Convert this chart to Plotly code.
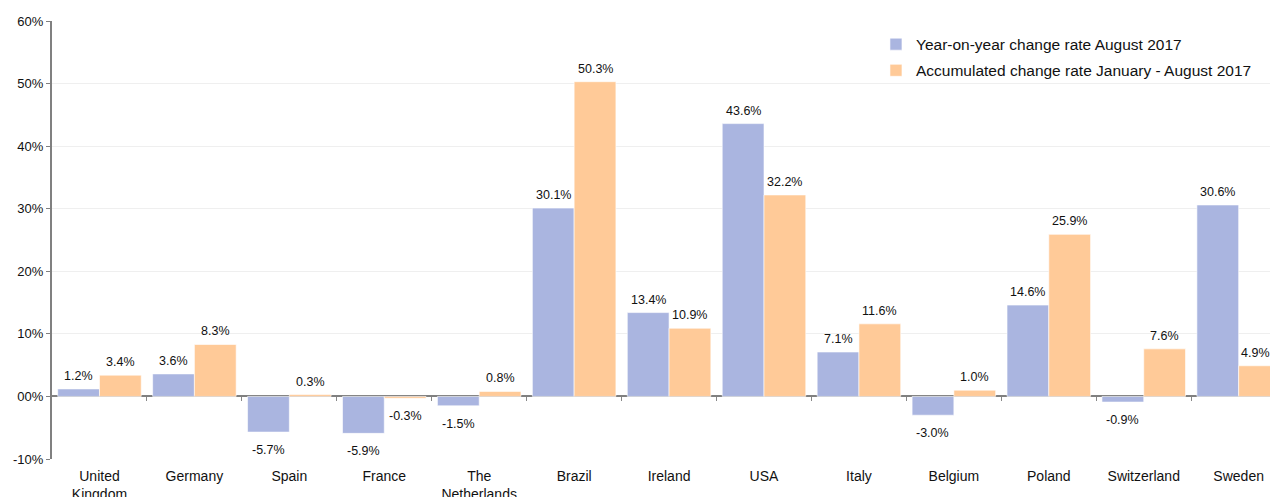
import plotly.graph_objects as go

countries = ["United<br>Kingdom", "Germany", "Spain", "France", "The<br>Netherlands",
             "Brazil", "Ireland", "USA", "Italy", "Belgium", "Poland", "Switzerland", "Sweden"]
yoy_aug_2017 = [1.2, 3.6, -5.7, -5.9, -1.5, 30.1, 13.4, 43.6, 7.1, -3.0, 14.6, -0.9, 30.6]
acc_jan_aug_2017 = [3.4, 8.3, 0.3, -0.3, 0.8, 50.3, 10.9, 32.2, 11.6, 1.0, 25.9, 7.6, 4.9]
series_names = ["Year-on-year change rate August 2017",
                "Accumulated change rate January - August 2017"]
y_ticks = [-10, 0, 10, 20, 30, 40, 50, 60]
y_tick_labels = ["-10%", "00%", "10%", "20%", "30%", "40%", "50%", "60%"]

FONT = "Liberation Sans, Arial, sans-serif"
BLUE = "#AAB5E0"
ORANGE = "#FFCA98"
BARGAP = 0.12

x_idx = list(range(len(countries)))
fig = go.Figure()
annotations = []
half = (1 - BARGAP) / 4  # centre offset of each bar inside its group
for k, (name, vals, col) in enumerate([(series_names[0], yoy_aug_2017, BLUE),
                                        (series_names[1], acc_jan_aug_2017, ORANGE)]):
    fig.add_trace(go.Bar(
        x=x_idx, y=vals, name=name, legendgroup=name,
        marker=dict(color=col, line=dict(color="white", width=0.6)),
    ))
    sign = -1 if k == 0 else 1
    for i, v in zip(x_idx, vals):
        last_edge = (k == 1 and i == x_idx[-1])  # keep label inside the cropped right edge
        annotations.append(dict(
            x=i + sign * half, y=v, xref="x", yref="y",
            text=f"{v:.1f}%", showarrow=False,
            yanchor="bottom" if v >= 0 else "top",
            yshift=4 if v >= 0 else -9,
            xshift=-4 if last_edge else 0,
            font=dict(family=FONT, size=12.5, color="#111111"),
        ))

x_range = [-0.5, 12.33]
fig.update_layout(
    width=1270, height=497,
    margin=dict(l=52, r=0, t=21, b=38),
    paper_bgcolor="white", plot_bgcolor="white",
    barmode="group", bargap=BARGAP, bargroupgap=0.0,
    font=dict(family=FONT, size=13, color="#111111"),
    showlegend=True,
    legend=dict(x=0.6765, y=0.985, xanchor="left", yanchor="top",
                bgcolor="rgba(0,0,0,0)", font=dict(family=FONT, size=15.5, color="#111111"),
                traceorder="grouped", tracegroupgap=3, itemwidth=30),
    annotations=annotations,
    xaxis=dict(
        range=x_range, tickmode="array", tickvals=x_idx, ticktext=countries,
        showgrid=False, zeroline=False, showline=False, ticks="",
        ticklabelstandoff=7, automargin=False,
        tickfont=dict(family=FONT, size=14, color="#111111"),
    ),
    xaxis2=dict(
        overlaying="x", anchor="free", position=1/7, side="bottom",
        range=x_range, tickmode="array", tickvals=[i + 0.5 for i in x_idx],
        ticks="outside", ticklen=4, tickwidth=1, tickcolor="#888888",
        showticklabels=False, showgrid=False, zeroline=False, showline=False,
        automargin=False,
    ),
    yaxis=dict(
        range=[-10, 60], tickmode="array", tickvals=y_ticks, ticktext=y_tick_labels,
        showgrid=True, gridcolor="#EFEFEF", gridwidth=1,
        zeroline=True, zerolinecolor="#808080", zerolinewidth=2,
        showline=True, linecolor="#808080", linewidth=2,
        ticks="outside", ticklen=4, tickcolor="#808080", automargin=False,
        tickfont=dict(family=FONT, size=13, color="#111111"),
    ),
)
fig.add_trace(go.Scatter(x=[None], y=[None], xaxis="x2", showlegend=False, hoverinfo="skip"))

fig.write_html("out.html")
